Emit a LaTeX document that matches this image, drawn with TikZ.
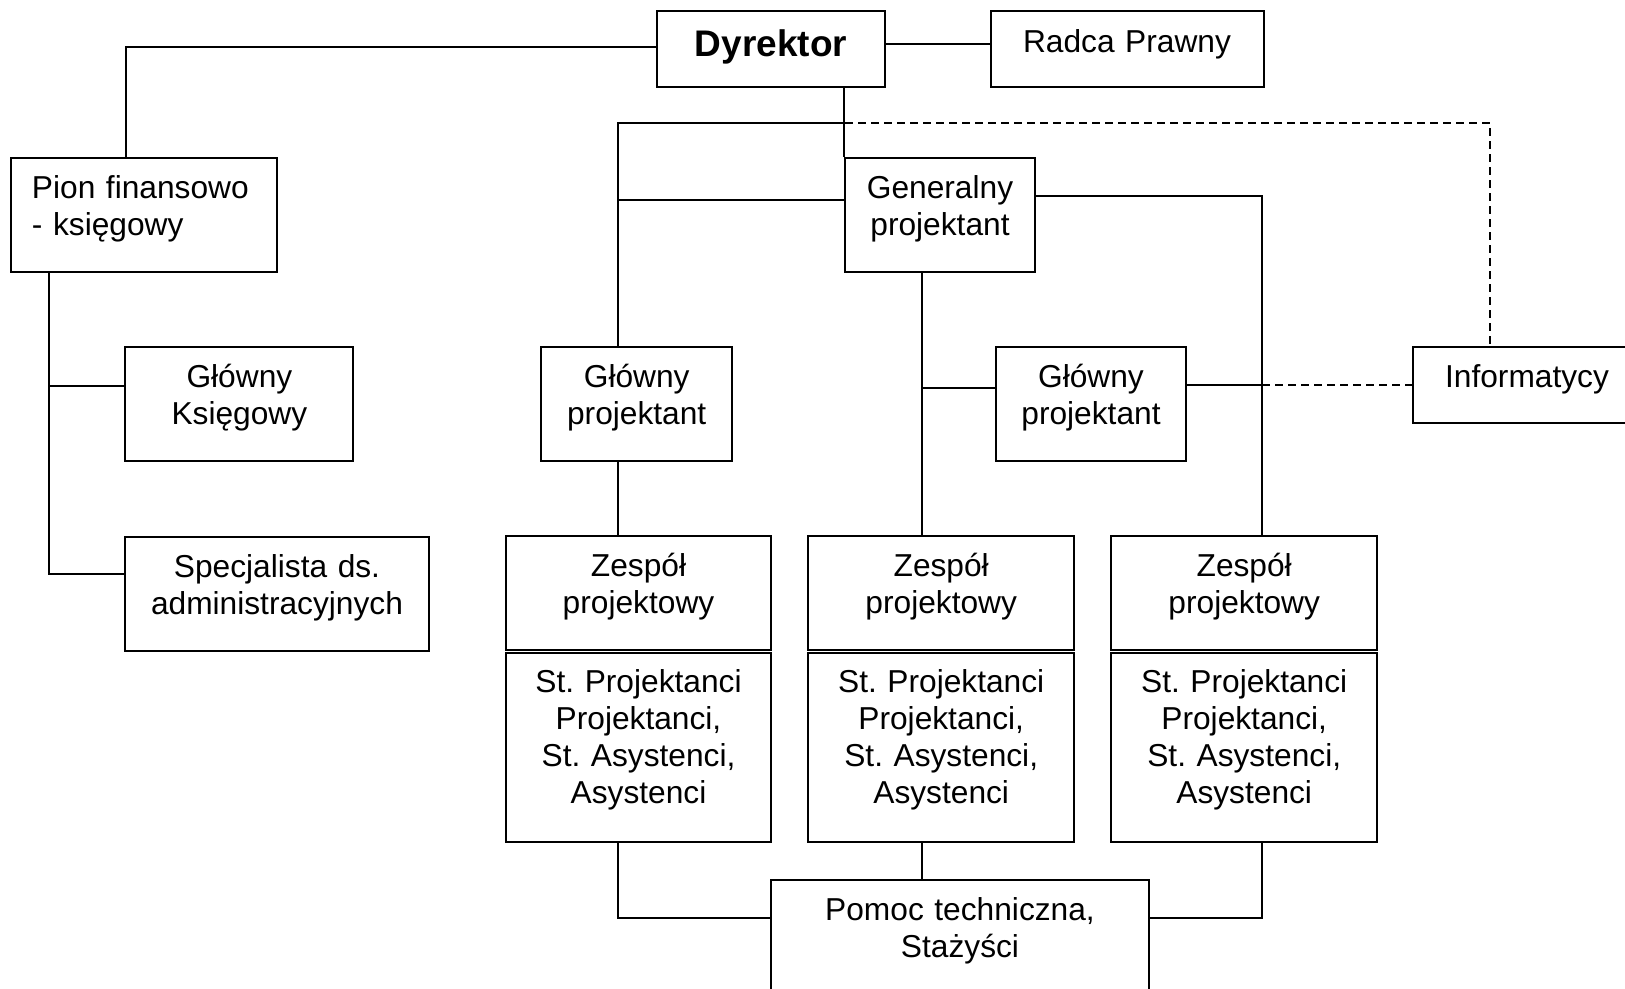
\documentclass[tikz,border=0pt]{standalone}
\usepackage{fontspec}
\setmainfont{Liberation Sans}
\frenchspacing
\tikzset{
	ramka/.style={draw, line width=2pt, inner sep=0pt},
	napis/.style={inner sep=0pt, align=center, text width=#1, font=\fontsize{31.7}{37}\selectfont},
	napis/.default=250pt,
	lin/.style={line width=2pt},
	kres/.style={line width=2pt, dash pattern=on 8pt off 5pt}
}
\begin{document}
\begin{tikzpicture}[x=1pt,y=-1pt]
	\path[use as bounding box, fill=white] (0,0) rectangle (1625,988);
	\node[ramka, minimum width=228pt, minimum height=76pt] (dyr) at (771,49) {};
	\node[napis=220pt, anchor=base, font=\fontsize{37}{42}\selectfont\bfseries] (dyrt) at ([yshift=-46.7pt]dyr.north) {Dyrektor};
	\node[ramka, minimum width=273pt, minimum height=76pt] (radca) at (1127,49) {};
	\node[napis=260pt, anchor=base] (radcat) at ([yshift=-42pt]radca.north) {Radca Prawny};
	\node[ramka, minimum width=265.5pt, minimum height=114pt] (pion) at (144,215) {};
	\node[napis=240pt, align=left, anchor=base west] (piont) at ([xshift=21.5pt,yshift=-41.5pt]pion.north west) {Pion finansowo\\- księgowy};
	\node[ramka, minimum width=190pt, minimum height=114pt] (gen) at (940,215) {};
	\node[napis=185pt, anchor=base] (gent) at ([yshift=-41pt]gen.north) {Generalny\\projektant};
	\node[ramka, minimum width=228pt, minimum height=114pt] (gk) at (239.4,404) {};
	\node[napis=220pt, anchor=base] (gkt) at ([yshift=-41.5pt]gk.north) {Główny\\Księgowy};
	\node[ramka, minimum width=304pt, minimum height=114pt] (spec) at (277,594) {};
	\node[napis=300pt, anchor=base] (spect) at ([yshift=-41.5pt]spec.north) {Specjalista ds.\\administracyjnych};
	\node[ramka, minimum width=190.6pt, minimum height=114pt] (gp1) at (636.7,404) {};
	\node[napis=185pt, anchor=base] (gp1t) at ([yshift=-41.5pt]gp1.north) {Główny\\projektant};
	\node[ramka, minimum width=190pt, minimum height=114pt] (gp2) at (1091,404) {};
	\node[napis=185pt, anchor=base] (gp2t) at ([yshift=-41.5pt]gp2.north) {Główny\\projektant};
	\node[ramka, minimum width=228pt, minimum height=76pt] (info) at (1527,385) {};
	\node[napis=220pt, anchor=base] (infot) at ([yshift=-41pt]info.north) {Informatycy};
	\node[ramka, minimum width=265pt, minimum height=114pt] (z1t) at (638.5,593) {};
	\node[napis=255pt, anchor=base] (z1tt) at ([yshift=-41.5pt]z1t.north) {Zespół\\projektowy};
	\node[ramka, minimum width=265pt, minimum height=189.3pt] (z1b) at (638.5,747.4) {};
	\node[napis=255pt, anchor=base] (z1bt) at ([yshift=-40.5pt]z1b.north) {St. Projektanci\\Projektanci,\\St. Asystenci,\\Asystenci};
	\node[ramka, minimum width=265.6pt, minimum height=114pt] (z2t) at (941.2,593) {};
	\node[napis=255pt, anchor=base] (z2tt) at ([yshift=-41.5pt]z2t.north) {Zespół\\projektowy};
	\node[ramka, minimum width=265.6pt, minimum height=189.3pt] (z2b) at (941.2,747.4) {};
	\node[napis=255pt, anchor=base] (z2bt) at ([yshift=-40.5pt]z2b.north) {St. Projektanci\\Projektanci,\\St. Asystenci,\\Asystenci};
	\node[ramka, minimum width=265.5pt, minimum height=114pt] (z3t) at (1244.2,593) {};
	\node[napis=255pt, anchor=base] (z3tt) at ([yshift=-41.5pt]z3t.north) {Zespół\\projektowy};
	\node[ramka, minimum width=265.5pt, minimum height=189.3pt] (z3b) at (1244.2,747.4) {};
	\node[napis=255pt, anchor=base] (z3bt) at ([yshift=-40.5pt]z3b.north) {St. Projektanci\\Projektanci,\\St. Asystenci,\\Asystenci};
	\node[ramka, minimum width=378pt, minimum height=114pt] (pomoc) at (960,937) {};
	\node[napis=370pt, anchor=base] (pomoct) at ([yshift=-41pt]pomoc.north) {Pomoc techniczna,\\Stażyści};
	\coordinate (jn) at (845,123);
	\coordinate (sp0) at ([xshift=-94.6pt]pion.south);
	\coordinate (sp1) at ([xshift=-18.7pt]gp1.north);
	\coordinate (sp2) at ([xshift=-18pt]gen.south);
	\coordinate (sp3) at ([xshift=17.8pt]z3t.north);
	\draw[lin] ([yshift=2pt]dyr.west) -| ([xshift=-18pt]pion.north);
	\draw[lin] ([yshift=5pt]dyr.east) -- ([yshift=5pt]radca.west);
	\draw[lin] (dyr.south -| gen.north west) -- (gen.north west);
	\draw[lin] (sp1) |- (jn);
	\draw[kres] (jn) -| ([xshift=-37pt]info.north);
	\draw[lin] ([yshift=15pt]gen.west) -- ([yshift=15pt]gen.west -| sp1);
	\draw[lin] (sp1 |- gp1.south) -- (sp1 |- z1t.north);
	\draw[lin] (sp2) -- (sp2 |- z2t.north);
	\draw[lin] ([yshift=16pt]gp2.west) -- ([yshift=16pt]gp2.west -| sp2);
	\draw[lin] ([yshift=19pt]gen.east) -| (sp3);
	\draw[lin] ([yshift=19pt]gp2.east) -- ([yshift=19pt]gp2.east -| sp3);
	\draw[kres] ([yshift=19pt]gp2.east -| sp3) -- (info.west);
	\draw[lin] (sp0) |- ([yshift=20pt]spec.west);
	\draw[lin] ([yshift=18pt]gk.west) -- ([yshift=18pt]gk.west -| sp0);
	\draw[lin] (sp1 |- z1b.south) |- ([yshift=19.3pt]pomoc.west);
	\draw[lin] (sp2 |- z2b.south) -- (sp2 |- pomoc.north);
	\draw[lin] (sp3 |- z3b.south) |- ([yshift=19.3pt]pomoc.east);
\end{tikzpicture}
\end{document}
